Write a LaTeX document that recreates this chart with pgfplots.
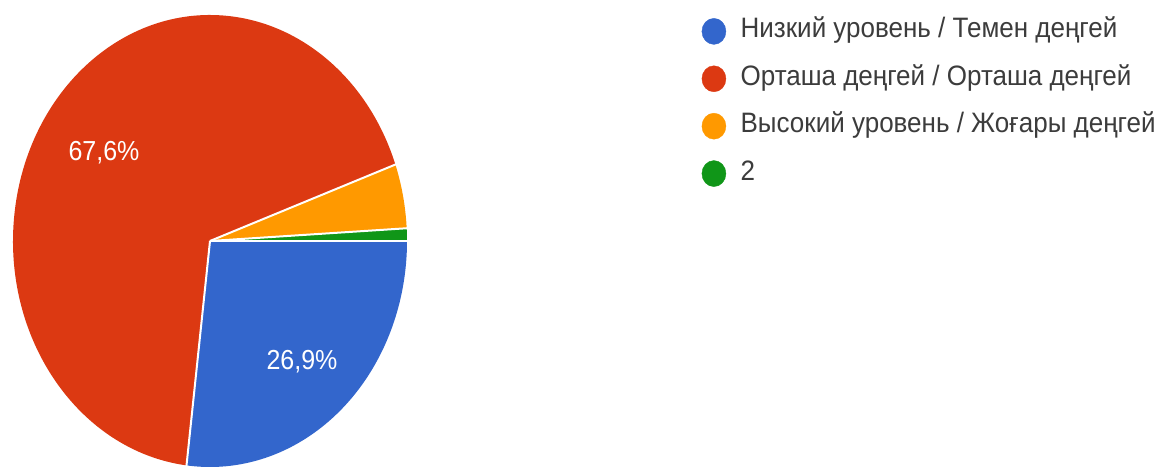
\documentclass[border=0pt]{standalone}
\usepackage{fontspec}
\setmainfont{Liberation Sans}
\usepackage{graphicx}
\usepackage{pgfplots}
\pgfplotsset{compat=1.18}
\definecolor{pieblue}{HTML}{3366CC}
\definecolor{piered}{HTML}{DC3912}
\definecolor{pieyellow}{HTML}{FF9900}
\definecolor{piegreen}{HTML}{109618}
\definecolor{legtext}{HTML}{3C3C3C}
% slice: colour, start percentage (cumulative), end percentage (cumulative)
\newcommand\slice[3]{%
  \fill[#1] (axis cs:210,231) -- ++({-3.6*#2}:197pt and 226pt)
    arc[start angle={-3.6*#2}, end angle={-3.6*#3}, x radius=197pt, y radius=226pt] -- cycle;}
\newcommand\sep[1]{%
  \draw[white, line width=2pt] (axis cs:210,231) -- ++({-3.6*#1}:199pt and 228pt);}
\begin{document}
\begin{tikzpicture}
\begin{axis}[
  scale only axis, width=1169pt, height=472pt,
  xmin=0, xmax=1169, ymin=0, ymax=472,
  hide axis, clip=false,
  legend cell align=left,
  legend style={at={(0.6001,0.9619)}, anchor=north west, draw=none, fill=none,
    inner sep=0pt, row sep=21pt, column sep=14.5pt,
    font=\fontsize{26}{30}\selectfont, text=legtext,
    nodes={inner sep=0pt, text height=19pt, text depth=6pt}},
]
% values (percent): 26.9, 67.6, 4.6, 0.9 ; cumulative 26.9, 94.5, 99.1, 100
\slice{pieblue}{0}{26.9}
\slice{piered}{26.9}{94.5}
\slice{pieyellow}{94.5}{99.1}
\slice{piegreen}{99.1}{100}
\sep{0}\sep{26.9}\sep{94.5}\sep{99.1}
\node[white, anchor=base, font=\fontsize{25}{30}\selectfont] at (axis cs:104,311) {\scalebox{1}[1.1]{67,6\%}};
\node[white, anchor=base, font=\fontsize{25}{30}\selectfont] at (axis cs:302,103) {\scalebox{1}[1.1]{26,9\%}};
\addlegendimage{legend image code/.code={\fill[pieblue] (0,0) ellipse[x radius=12pt, y radius=13pt];}}
\addlegendentry{\scalebox{1}[1.08]{Низкий уровень / Темен деңгей}}
\addlegendimage{legend image code/.code={\fill[piered] (0,0) ellipse[x radius=12pt, y radius=13pt];}}
\addlegendentry{\scalebox{1}[1.08]{Орташа деңгей / Орташа деңгей}}
\addlegendimage{legend image code/.code={\fill[pieyellow] (0,0) ellipse[x radius=12pt, y radius=13pt];}}
\addlegendentry{\scalebox{1}[1.08]{Высокий уровень / Жоғары деңгей}}
\addlegendimage{legend image code/.code={\fill[piegreen] (0,0) ellipse[x radius=12pt, y radius=13pt];}}
\addlegendentry{\scalebox{1}[1.08]{2}}
\coordinate (bl) at (axis cs:0,0);
\coordinate (tr) at (axis cs:1169,472);
\end{axis}
\pgfresetboundingbox
\path[use as bounding box] (bl) rectangle (tr);
\end{tikzpicture}
\end{document}
